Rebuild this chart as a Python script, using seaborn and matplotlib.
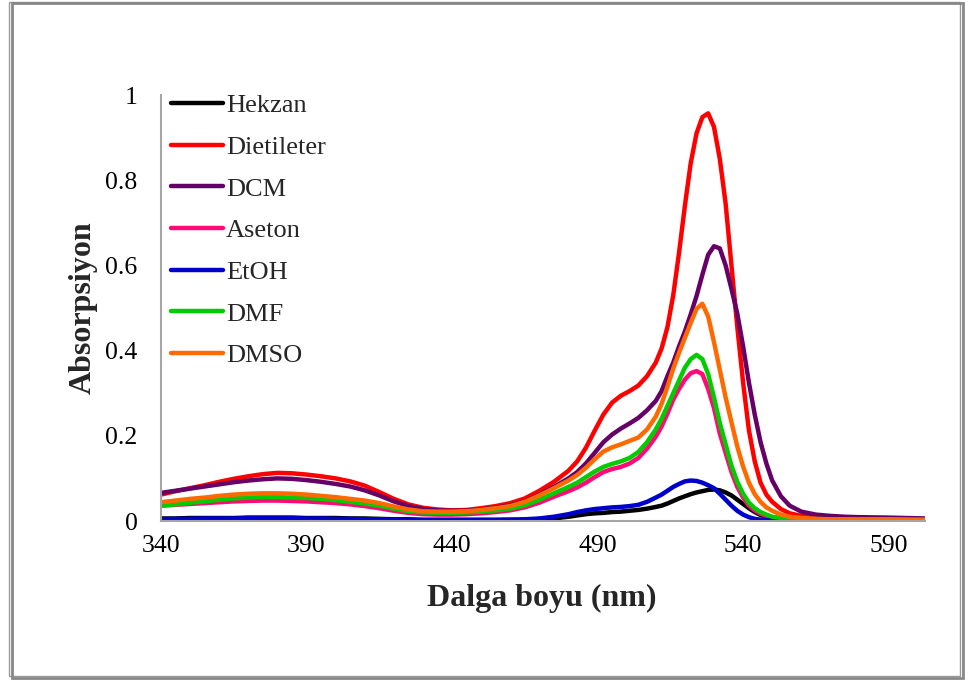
import matplotlib
matplotlib.use("Agg")
import matplotlib.pyplot as plt
import seaborn as sns
import pandas as pd
from matplotlib.patches import Rectangle
from matplotlib.lines import Line2D

# ---------------- data ----------------
wavelength = [340, 345, 350, 355, 360, 365, 370, 375, 380, 385, 390, 395, 400, 405, 410,
              415, 420, 425, 430, 435, 440, 445, 450, 455, 460, 465, 470, 475, 480,
              483, 486, 489, 492, 495, 498, 501, 504, 507,
              510, 512, 514, 516, 518, 520, 522, 524, 526, 528, 530, 532, 534, 536, 538,
              540, 542, 544, 546, 548, 550,
              553, 556, 560, 565, 570, 575, 580, 590, 602.5]

hekzan = [0.006, 0.006, 0.007, 0.007, 0.007, 0.007, 0.008, 0.008, 0.008, 0.008, 0.007, 0.007, 0.007, 0.006, 0.006,
          0.005, 0.004, 0.004, 0.003, 0.003, 0.003, 0.003, 0.003, 0.003, 0.003, 0.003, 0.004, 0.006, 0.010,
          0.013, 0.016, 0.018, 0.019, 0.021, 0.022, 0.024, 0.026, 0.029,
          0.033, 0.036, 0.041, 0.047, 0.053, 0.058, 0.063, 0.067, 0.070, 0.073, 0.074, 0.072, 0.067, 0.060, 0.050,
          0.040, 0.030, 0.021, 0.014, 0.009, 0.006,
          0.004, 0.003, 0.002, 0.002, 0.002, 0.002, 0.002, 0.002, 0.002]

dietileter = [0.062, 0.070, 0.077, 0.084, 0.092, 0.099, 0.105, 0.110, 0.113, 0.112, 0.109, 0.105, 0.100, 0.093, 0.083,
              0.068, 0.052, 0.039, 0.031, 0.027, 0.025, 0.026, 0.030, 0.035, 0.042, 0.053, 0.071, 0.092, 0.118,
              0.140, 0.172, 0.212, 0.250, 0.278, 0.294, 0.305, 0.318, 0.340,
              0.372, 0.405, 0.455, 0.530, 0.630, 0.740, 0.840, 0.910, 0.948, 0.957, 0.925, 0.850, 0.745, 0.600, 0.456,
              0.325, 0.213, 0.140, 0.090, 0.062, 0.045,
              0.028, 0.018, 0.012, 0.009, 0.007, 0.006, 0.005, 0.005, 0.004]

dcm = [0.066, 0.071, 0.076, 0.081, 0.086, 0.091, 0.095, 0.098, 0.100, 0.099, 0.096, 0.092, 0.087, 0.081, 0.072,
       0.060, 0.046, 0.035, 0.028, 0.025, 0.024, 0.024, 0.027, 0.031, 0.037, 0.046, 0.062, 0.080, 0.100,
       0.115, 0.135, 0.160, 0.185, 0.203, 0.217, 0.229, 0.242, 0.260,
       0.282, 0.305, 0.340, 0.372, 0.410, 0.445, 0.485, 0.528, 0.578, 0.625, 0.645, 0.640, 0.600, 0.545, 0.487,
       0.410, 0.325, 0.250, 0.185, 0.135, 0.095,
       0.058, 0.036, 0.022, 0.015, 0.012, 0.010, 0.009, 0.008, 0.006]

aseton = [0.036, 0.038, 0.040, 0.042, 0.044, 0.046, 0.047, 0.048, 0.048, 0.047, 0.046, 0.044, 0.042, 0.039, 0.035,
          0.030, 0.024, 0.019, 0.016, 0.015, 0.015, 0.016, 0.018, 0.021, 0.025, 0.032, 0.043, 0.057, 0.070,
          0.079, 0.090, 0.103, 0.115, 0.122, 0.127, 0.135, 0.148, 0.170,
          0.198, 0.222, 0.252, 0.285, 0.310, 0.332, 0.347, 0.352, 0.345, 0.310, 0.265, 0.205, 0.160, 0.115, 0.080,
          0.055, 0.036, 0.025, 0.017, 0.012, 0.008,
          0.006, 0.004, 0.003, 0.003, 0.002, 0.002, 0.002, 0.002, 0.002]

etoh = [0.004, 0.005, 0.005, 0.006, 0.006, 0.006, 0.007, 0.007, 0.007, 0.007, 0.006, 0.006, 0.005, 0.005, 0.004,
        0.004, 0.003, 0.002, 0.002, 0.002, 0.002, 0.002, 0.002, 0.002, 0.003, 0.004, 0.006, 0.010, 0.016,
        0.021, 0.025, 0.028, 0.030, 0.032, 0.033, 0.035, 0.038, 0.045,
        0.055, 0.062, 0.071, 0.080, 0.087, 0.093, 0.095, 0.094, 0.090, 0.084, 0.077, 0.064, 0.050, 0.036, 0.024,
        0.015, 0.009, 0.005, 0.003, 0.002, 0.001,
        0.001, 0.001, 0.001, 0.001, 0.001, 0.001, 0.001, 0.001, 0.001]

dmf = [0.036, 0.039, 0.043, 0.046, 0.050, 0.053, 0.055, 0.056, 0.056, 0.055, 0.054, 0.052, 0.049, 0.045, 0.041,
       0.036, 0.029, 0.023, 0.020, 0.019, 0.019, 0.020, 0.022, 0.025, 0.029, 0.037, 0.050, 0.065, 0.080,
       0.090, 0.103, 0.116, 0.127, 0.134, 0.140, 0.148, 0.162, 0.185,
       0.215, 0.240, 0.270, 0.300, 0.330, 0.360, 0.380, 0.390, 0.380, 0.345, 0.290, 0.230, 0.180, 0.130, 0.092,
       0.064, 0.043, 0.030, 0.021, 0.015, 0.010,
       0.007, 0.005, 0.004, 0.003, 0.003, 0.003, 0.002, 0.002, 0.002]

dmso = [0.044, 0.048, 0.052, 0.055, 0.059, 0.062, 0.064, 0.065, 0.065, 0.064, 0.062, 0.059, 0.056, 0.052, 0.048,
        0.042, 0.034, 0.027, 0.023, 0.022, 0.022, 0.023, 0.026, 0.030, 0.035, 0.045, 0.060, 0.077, 0.095,
        0.108, 0.125, 0.145, 0.163, 0.173, 0.180, 0.188, 0.196, 0.215,
        0.245, 0.275, 0.315, 0.358, 0.395, 0.430, 0.465, 0.498, 0.510, 0.480, 0.420, 0.355, 0.290, 0.232, 0.175,
        0.128, 0.090, 0.063, 0.045, 0.032, 0.024,
        0.015, 0.010, 0.007, 0.005, 0.004, 0.004, 0.004, 0.004, 0.003]

solvents = ["Hekzan", "Dietileter", "DCM", "Aseton", "EtOH", "DMF", "DMSO"]
series = [hekzan, dietileter, dcm, aseton, etoh, dmf, dmso]
colors = ["#000000", "#FF0000", "#660066", "#FF0A78", "#0000CC", "#00CC00", "#FF6A00"]

x_ticks = [340, 390, 440, 490, 540, 590]
y_ticks = [0, 0.2, 0.4, 0.6, 0.8, 1]
y_ticklabels = ["0", "0.2", "0.4", "0.6", "0.8", "1"]

# ---------------- build table ----------------
rows = []
for name, vals in zip(solvents, series):
    for w, v in zip(wavelength, vals):
        rows.append({"nm": w, "abs": v, "Solvent": name})
df = pd.DataFrame(rows)

# ---------------- plot ----------------
sns.set_theme(style="white")
plt.rcParams["font.family"] = ["Liberation Serif", "DejaVu Serif"]

fig = plt.figure(figsize=(9.72, 6.84), dpi=100)
L, R, B, T = 161, 925, 521, 95
ax = fig.add_axes([L / 972, 1 - B / 684, (R - L) / 972, (B - T) / 684])

palette = dict(zip(solvents, colors))
sns.lineplot(data=df, x="nm", y="abs", hue="Solvent", hue_order=solvents,
             palette=palette, linewidth=3.2, ax=ax, legend=False, errorbar=None,
             estimator=None)
for ln in ax.get_lines():
    ln.set_solid_capstyle("round")
    ln.set_solid_joinstyle("round")

ax.set_xlim(340, 602.5)
ax.set_ylim(0, 1)
ax.set_xticks(x_ticks)
ax.set_xticklabels([str(t) for t in x_ticks])
ax.set_yticks(y_ticks)
ax.set_yticklabels(y_ticklabels)
ax.tick_params(axis="both", length=0, labelsize=18.5, colors="#000000")
ax.tick_params(axis="y", pad=17)
ax.tick_params(axis="x", pad=10)

for s in ["top", "right"]:
    ax.spines[s].set_visible(False)
for s in ["left", "bottom"]:
    ax.spines[s].set_color("#A6A6A6")
    ax.spines[s].set_linewidth(1.5)

ax.set_xlabel("Dalga boyu (nm)", fontsize=23, fontweight="bold")
ax.set_ylabel("Absorpsiyon", fontsize=23, fontweight="bold")
ax.xaxis.set_label_coords((542 - L) / (R - L), -(584 - B) / (B - T))
ax.yaxis.set_label_coords(-(L - 98) / (R - L), (B - 308) / (B - T))

handles = [Line2D([0], [0], color=c, lw=3.2, solid_capstyle="round") for c in colors]
leg = ax.legend(handles, solvents, loc="upper left", bbox_to_anchor=(-0.004, 1.034),
                frameon=False, fontsize=19, handlelength=1.95, handletextpad=0.12,
                labelspacing=0.69, borderaxespad=0.3, borderpad=0.2)

# outer frame with shadow
fig.patches.append(Rectangle((12 / 972, 6 / 684), 951 / 972, 675 / 684, transform=fig.transFigure,
                             fill=False, edgecolor="#888888", linewidth=2.0))
fig.patches.append(Rectangle((9 / 972, 8 / 684), 951 / 972, 674 / 684, transform=fig.transFigure,
                             fill=True, facecolor="white", edgecolor="#999999", linewidth=1.0, zorder=-1))

fig.savefig("out.png", dpi=100)
